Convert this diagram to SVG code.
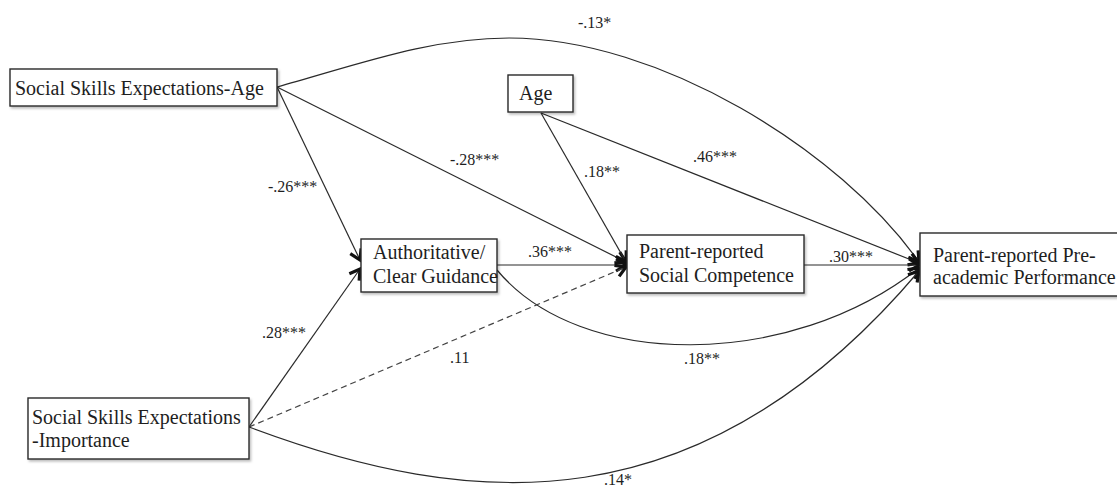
<svg xmlns="http://www.w3.org/2000/svg" width="1117" height="487" viewBox="0 0 1117 487">
<style>
.box{fill:#fff;stroke:#2a2a2a;stroke-width:1.4;filter:url(#sh)}
.nt{font-family:"Liberation Serif","Times New Roman",serif;font-size:20px;fill:#1e1e1e}
.lb{font-family:"Liberation Serif","Times New Roman",serif;font-size:16px;fill:#1e1e1e}
.cn{fill:none;stroke:#2a2a2a;stroke-width:1.2}
.ar{marker-end:url(#arr)}
.dash{stroke-dasharray:6 4;stroke:#444}
</style>
<defs>
<filter id="sh" x="-10%" y="-20%" width="130%" height="160%">
<feDropShadow dx="1.5" dy="2" stdDeviation="1" flood-color="#000" flood-opacity="0.25"/>
</filter>
<marker id="arr" markerUnits="userSpaceOnUse" markerWidth="16" markerHeight="16" refX="12" refY="7" orient="auto" overflow="visible">
<path d="M2,1 L12,7 L2,13" fill="none" stroke="#111" stroke-width="3.2"/>
</marker>
</defs>
<rect width="1117" height="487" fill="#fff"/>
<g id="connectors">
<path class="cn ar" d="M277,87 C357,65 429,38 509,38 C659,38 840,150 919,262"/>
<line class="cn ar" x1="277" y1="87" x2="360" y2="260"/>
<line class="cn ar" x1="277" y1="87" x2="626" y2="262"/>
<line class="cn ar" x1="541" y1="113" x2="626" y2="262"/>
<line class="cn ar" x1="541" y1="113" x2="919" y2="263"/>
<line class="cn ar" x1="497" y1="265" x2="626" y2="265"/>
<line class="cn ar" x1="804" y1="265" x2="919" y2="265"/>
<path class="cn ar" d="M497,270 C580,370 790,370 919,268"/>
<line class="cn ar" x1="249" y1="427" x2="360" y2="269"/>
<line class="cn dash ar" x1="249" y1="427" x2="626" y2="267"/>
<path class="cn ar" d="M249,427 C470,510 700,530 919,271"/>
</g>
<g id="labels">
<text class="lb" x="578" y="28">-.13*</text>
<text class="lb" x="268" y="192">-.26***</text>
<text class="lb" x="450" y="165">-.28***</text>
<text class="lb" x="584" y="177">.18**</text>
<text class="lb" x="693" y="162">.46***</text>
<text class="lb" x="528" y="257">.36***</text>
<text class="lb" x="829" y="262">.30***</text>
<text class="lb" x="262" y="338">.28***</text>
<text class="lb" x="450" y="363">.11</text>
<text class="lb" x="684" y="364">.18**</text>
<text class="lb" x="604" y="485">.14*</text>
</g>
<g id="node-sse-age">
<rect class="box" x="10" y="69" width="267" height="37"/>
<text class="nt" x="15" y="95">Social Skills Expectations-Age</text>
</g>
<g id="node-age">
<rect class="box" x="508" y="75" width="65" height="37"/>
<text class="nt" x="519" y="100">Age</text>
</g>
<g id="node-auth">
<rect class="box" x="361" y="239" width="136" height="53"/>
<text class="nt" x="373" y="259">Authoritative/</text>
<text class="nt" x="373" y="283">Clear Guidance</text>
</g>
<g id="node-social-competence">
<rect class="box" x="627" y="235" width="177" height="58"/>
<text class="nt" x="639" y="258">Parent-reported</text>
<text class="nt" x="639" y="282">Social Competence</text>
</g>
<g id="node-pre-academic">
<rect class="box" x="920" y="233" width="200" height="63"/>
<text class="nt" x="933" y="262">Parent-reported Pre-</text>
<text class="nt" x="933" y="284">academic Performance</text>
</g>
<g id="node-sse-importance">
<rect class="box" x="28" y="398" width="221" height="61"/>
<text class="nt" x="32" y="424">Social Skills Expectations</text>
<text class="nt" x="32" y="447">-Importance</text>
</g>
</svg>
